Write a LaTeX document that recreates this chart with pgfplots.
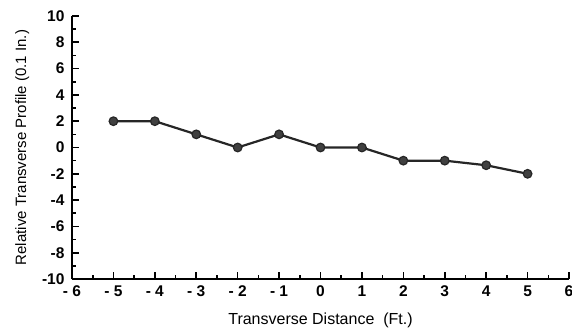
\documentclass[border=0pt]{standalone}
\usepackage{pgfplots}
\pgfplotsset{compat=1.18}
\usepackage{fontspec}
\setmainfont{Liberation Sans}
\begin{document}
\begin{tikzpicture}
\path[use as bounding box] (-72pt,-53pt) rectangle (500pt,279pt);
\begin{axis}[
  at={(0,0)}, anchor=south west,
  scale only axis, width=497pt, height=263pt,
  xmin=-6, xmax=6, ymin=-10, ymax=10,
  axis x line*=bottom, axis y line*=left,
  axis line style={line width=2pt, -},
  xtick={-6,...,6},
  xticklabels={- 6,- 5,- 4,- 3,- 2,- 1,0,1,2,3,4,5,6},
  minor x tick num=1,
  ytick={-10,-8,...,10},
  yticklabels={-10,-8,-6,-4,-2,0,2,4,6,8,10},
  minor y tick num=1,
  tick align=inside,
  major tick length=7pt, minor tick length=4pt,
  tick style={line width=1.6pt, black},
  ticklabel style={font=\fontsize{15.5}{16}\selectfont\bfseries},
  xticklabel style={yshift=-3pt},
  yticklabel style={xshift=-4pt},
  xlabel={Transverse Distance\ \ (Ft.)},
  ylabel={Relative Transverse Profile (0.1 In.)},
  xlabel style={font=\fontsize{16}{18}\selectfont, yshift=-10pt},
  ylabel style={font=\fontsize{15}{17}\selectfont, yshift=6pt},
  clip=false,
]
\addplot[line width=2.2pt, black!85, mark=*, mark size=4.3pt, mark options={fill=black!75, draw=black!85, line width=1.2pt}]
coordinates {(-5,2) (-4,2) (-3,1) (-2,0) (-1,1) (0,0) (1,0) (2,-1) (3,-1) (4,-1.35) (5,-2)};
\end{axis}
\end{tikzpicture}
\end{document}
